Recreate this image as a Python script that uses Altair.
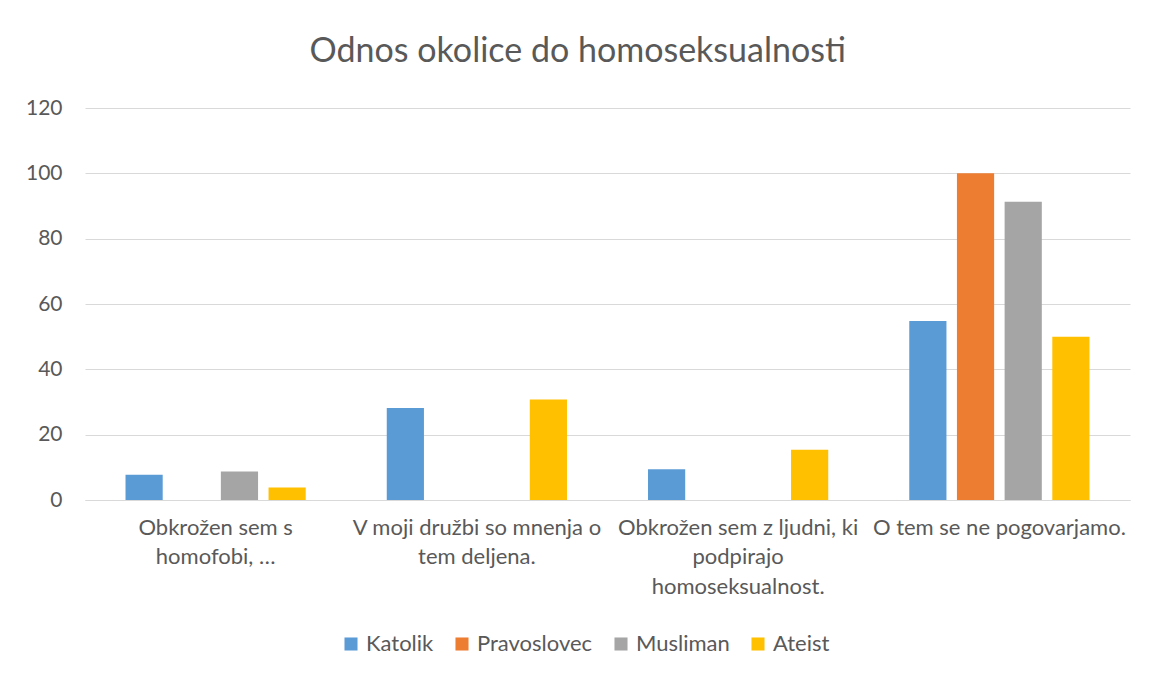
import altair as alt
import pandas as pd

categories = [
    "Obkrožen sem s\nhomofobi, …",
    "V moji družbi so mnenja o\ntem deljena.",
    "Obkrožen sem z ljudni, ki\npodpirajo\nhomoseksualnost.",
    "O tem se ne pogovarjamo.",
]
series = ["Katolik", "Pravoslovec", "Musliman", "Ateist"]
colors = ["#5B9BD5", "#ED7D31", "#A5A5A5", "#FFC000"]

katolik = [7.7, 28.2, 9.4, 54.8]
pravoslovec = [0, 0, 0, 100]
musliman = [8.7, 0, 0, 91.3]
ateist = [3.8, 30.8, 15.4, 50]

values = {"Katolik": katolik, "Pravoslovec": pravoslovec, "Musliman": musliman, "Ateist": ateist}
rows = []
for s in series:
    for c, v in zip(categories, values[s]):
        rows.append({"kategorija": c, "skupina": s, "vrednost": v})
df = pd.DataFrame(rows)

font = "Lato"
gray = "#595959"

chart = alt.Chart(df).mark_bar().encode(
    x=alt.X("kategorija:N", sort=categories, title=None,
            scale=alt.Scale(paddingInner=0.27, paddingOuter=0.135),
            axis=alt.Axis(labelAngle=0, labelExpr="split(datum.label, '\\n')",
                          labelFontSize=22, labelColor=gray, labelFont=font,
                          labelLineHeight=29.5, labelPadding=17, labelLimit=400,
                          ticks=False, domain=True, domainColor="#d9d9d9", grid=False,
                          labelBaseline="top")),
    xOffset=alt.XOffset("skupina:N", sort=series,
                        scale=alt.Scale(paddingInner=0.22, paddingOuter=0.11)),
    y=alt.Y("vrednost:Q", title=None,
            scale=alt.Scale(domain=[0, 120], nice=False),
            axis=alt.Axis(values=[0, 20, 40, 60, 80, 100, 120], ticks=False, domain=False,
                          gridColor="#d9d9d9", gridWidth=1, labelFontSize=21,
                          labelColor=gray, labelFont=font, labelPadding=23)),
    color=alt.Color("skupina:N", sort=series,
                    scale=alt.Scale(domain=series, range=colors),
                    legend=alt.Legend(orient="none", legendX=255, legendY=525,
                                      direction="horizontal", title=None,
                                      symbolType="square", symbolSize=170,
                                      symbolStrokeWidth=0, labelFontSize=22,
                                      labelColor=gray, labelFont=font,
                                      columnPadding=17, labelOffset=4)),
).properties(
    width=1045,
    height=392,
    title=alt.TitleParams("Odnos okolice do homoseksualnosti", fontSize=34,
                          font=font, fontWeight="normal", color=gray,
                          anchor="middle", frame="bounds", offset=28),
    autosize=alt.AutoSizeParams(type="none"),
    padding={"left": 77, "top": 100, "right": 13, "bottom": 159},
).configure(background="white").configure_view(strokeWidth=0, stroke="transparent")

chart.save("out.html", embed_options={"renderer": "svg", "actions": False})
